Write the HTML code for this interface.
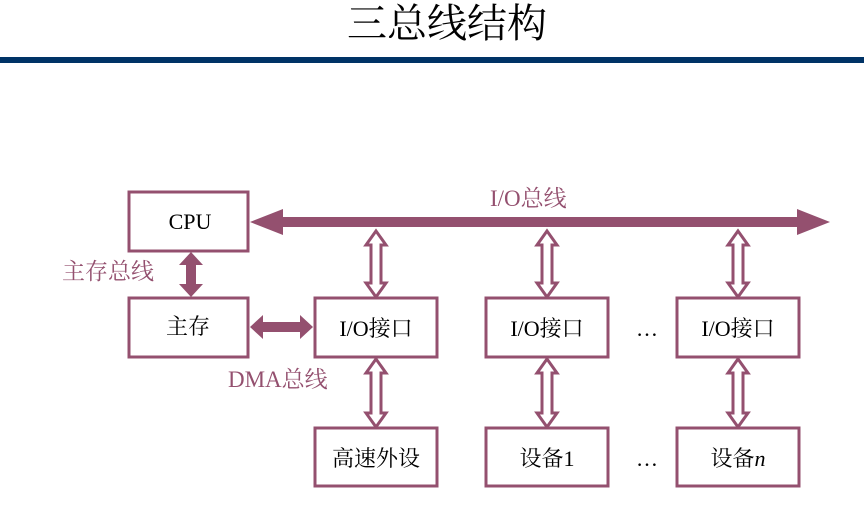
<!DOCTYPE html>
<html><head><meta charset="utf-8"><style>
html,body{margin:0;padding:0;background:#fff;width:864px;height:521px;overflow:hidden}
svg{display:block}
text{font-family:"Liberation Serif","Noto Serif CJK SC",serif}
</style></head><body>
<svg width="864" height="521" viewBox="0 0 864 521" xmlns="http://www.w3.org/2000/svg">
<text x="447" y="37" font-size="40" text-anchor="middle" fill="#000" font-family="Liberation Sans, Noto Sans CJK SC, sans-serif">三总线结构</text>
<rect x="0" y="57" width="864" height="6" fill="#003366"/>
<g fill="none" stroke="#94506f" stroke-width="3">
<rect x="129" y="192" width="119" height="59"/>
<rect x="129" y="298" width="119" height="59"/>
<rect x="315" y="298" width="122" height="59"/>
<rect x="486" y="298" width="122" height="59"/>
<rect x="677" y="298" width="122" height="59"/>
<rect x="315" y="428" width="122" height="58"/>
<rect x="486" y="428" width="122" height="58"/>
<rect x="677" y="428" width="122" height="58"/>
</g>
<g fill="#94506f">
<polygon points="250,222 283,209 283,217 797,217 797,209 830,222 797,235 797,227 283,227 283,235"/>
<polygon points="191,252 203,265 196,265 196,284 203,284 191,297 179,284 186,284 186,265 179,265"/>
<polygon points="250,327 263,315 263,322 300,322 300,315 313,327 300,339 300,332 263,332 263,339"/>
</g>
<g fill="#fff" stroke="#94506f" stroke-width="3" stroke-linejoin="miter">
<polygon points="376,231 386,245 381,245 381,283 386,283 376,297 366,283 371,283 371,245 366,245"/>
<polygon points="547,231 557,245 552,245 552,283 557,283 547,297 537,283 542,283 542,245 537,245"/>
<polygon points="738,231 748,245 743,245 743,283 748,283 738,297 728,283 733,283 733,245 728,245"/>
<polygon points="376,359 386,373 381,373 381,413 386,413 376,427 366,413 371,413 371,373 366,373"/>
<polygon points="547,359 557,373 552,373 552,413 557,413 547,427 537,413 542,413 542,373 537,373"/>
<polygon points="738,359 748,373 743,373 743,413 748,413 738,427 728,413 733,413 733,373 728,373"/>
</g>
<g font-size="22" fill="#000" text-anchor="middle">
<text x="190" y="229">CPU</text>
<text x="188" y="334">主存</text>
<text x="376" y="336">I/O接口</text>
<text x="547" y="336">I/O接口</text>
<text x="738" y="336">I/O接口</text>
<text x="376" y="466">高速外设</text>
<text x="547" y="466">设备1</text>
<text x="738" y="466">设备<tspan font-style="italic">n</tspan></text>
<text x="647" y="336">…</text>
<text x="647" y="466">…</text>
</g>
<g font-size="23" fill="#94506f">
<text x="490" y="206">I/O总线</text>
<text x="62" y="279">主存总线</text>
<text x="228" y="387">DMA总线</text>
</g>
</svg>
</body></html>
